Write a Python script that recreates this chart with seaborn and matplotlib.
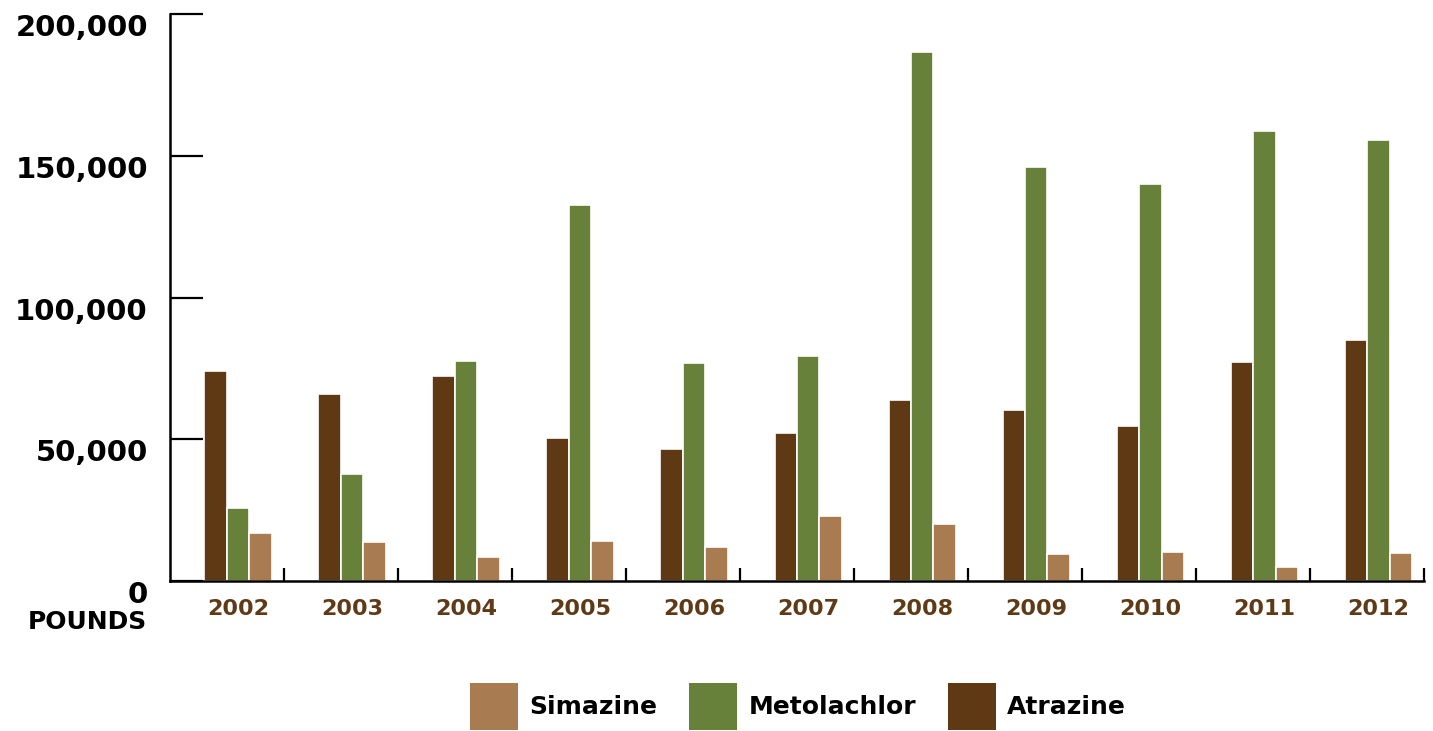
import matplotlib
matplotlib.use("Agg")
import matplotlib.pyplot as plt
from matplotlib.patches import Patch
import seaborn as sns
import pandas as pd

years = ["2002", "2003", "2004", "2005", "2006", "2007", "2008", "2009", "2010", "2011", "2012"]
atrazine = [74100, 66000, 72300, 50400, 46600, 52200, 63800, 60300, 54700, 77200, 85000]
metolachlor = [25700, 37700, 77600, 132600, 76900, 79400, 186600, 146000, 140000, 158700, 155600]
simazine = [16900, 13800, 8500, 14100, 12000, 22900, 20100, 9500, 10200, 4900, 9900]
chemicals = ["Atrazine", "Metolachlor", "Simazine"]
legend_order = ["Simazine", "Metolachlor", "Atrazine"]
colors = {"Atrazine": "#5e3914", "Metolachlor": "#67813a", "Simazine": "#a87b50"}
y_ticks = [0, 50000, 100000, 150000, 200000]

rows = []
for chem, vals in zip(chemicals, [atrazine, metolachlor, simazine]):
    for yr, v in zip(years, vals):
        rows.append({"year": yr, "chemical": chem, "pounds": v})
df = pd.DataFrame(rows)

sns.set_style("white")
plt.rcParams["font.family"] = ["DejaVu Sans"]
plt.rcParams["text.color"] = "black"

fig = plt.figure(figsize=(14.33, 7.31), dpi=100)
ax = fig.add_axes([170 / 1433, 1 - 581 / 731, (1424 - 170) / 1433, (581 - 14) / 731])

sns.barplot(data=df, x="year", y="pounds", hue="chemical", hue_order=chemicals,
            palette=colors, width=0.59, gap=0, saturation=1, legend=False, ax=ax,
            edgecolor="white", linewidth=1.2)

ax.set_xlim(-0.596, 10.4)
ax.set_ylim(0, 200000)
ax.set_xlabel("")
ax.set_ylabel("")

for side in ["top", "right"]:
    ax.spines[side].set_visible(False)
for side in ["left", "bottom"]:
    ax.spines[side].set_color("black")
    ax.spines[side].set_linewidth(1.8)

# y axis: inward ticks, labels hung below the tick
ax.set_yticks(y_ticks)
ax.set_yticklabels([f"{t:,}" for t in y_ticks], fontsize=21, fontweight="bold")
ax.tick_params(axis="y", left=True, direction="in", length=24, width=1.6, pad=16,
               colors="black")
for lab in ax.get_yticklabels():
    lab.set_verticalalignment("top")

# x axis: year labels under groups, separator ticks between groups
ax.set_xticks(range(len(years)))
ax.set_xticklabels(years, fontsize=16, fontweight="bold", color="#5e3a16")
ax.tick_params(axis="x", which="major", bottom=True, length=0, pad=13)
ax.set_xticks([i + 0.4 for i in range(len(years))], minor=True)
ax.tick_params(axis="x", which="minor", bottom=True, direction="in", length=9.5,
               width=1.6, color="black")

fig.text(147 / 1433, 1 - 622 / 731, "POUNDS", ha="right", va="center",
         fontsize=18, fontweight="bold", color="black")

handles = [Patch(facecolor=colors[c], edgecolor="none") for c in legend_order]
fig.legend(handles, legend_order, loc="center", bbox_to_anchor=(0.557, 0.034), ncol=3,
           frameon=False, prop={"size": 18, "weight": "bold"}, labelcolor="black",
           handlelength=1.92, handleheight=2.5, handletextpad=0.44, columnspacing=1.28)

fig.savefig("out.png", dpi=100)
